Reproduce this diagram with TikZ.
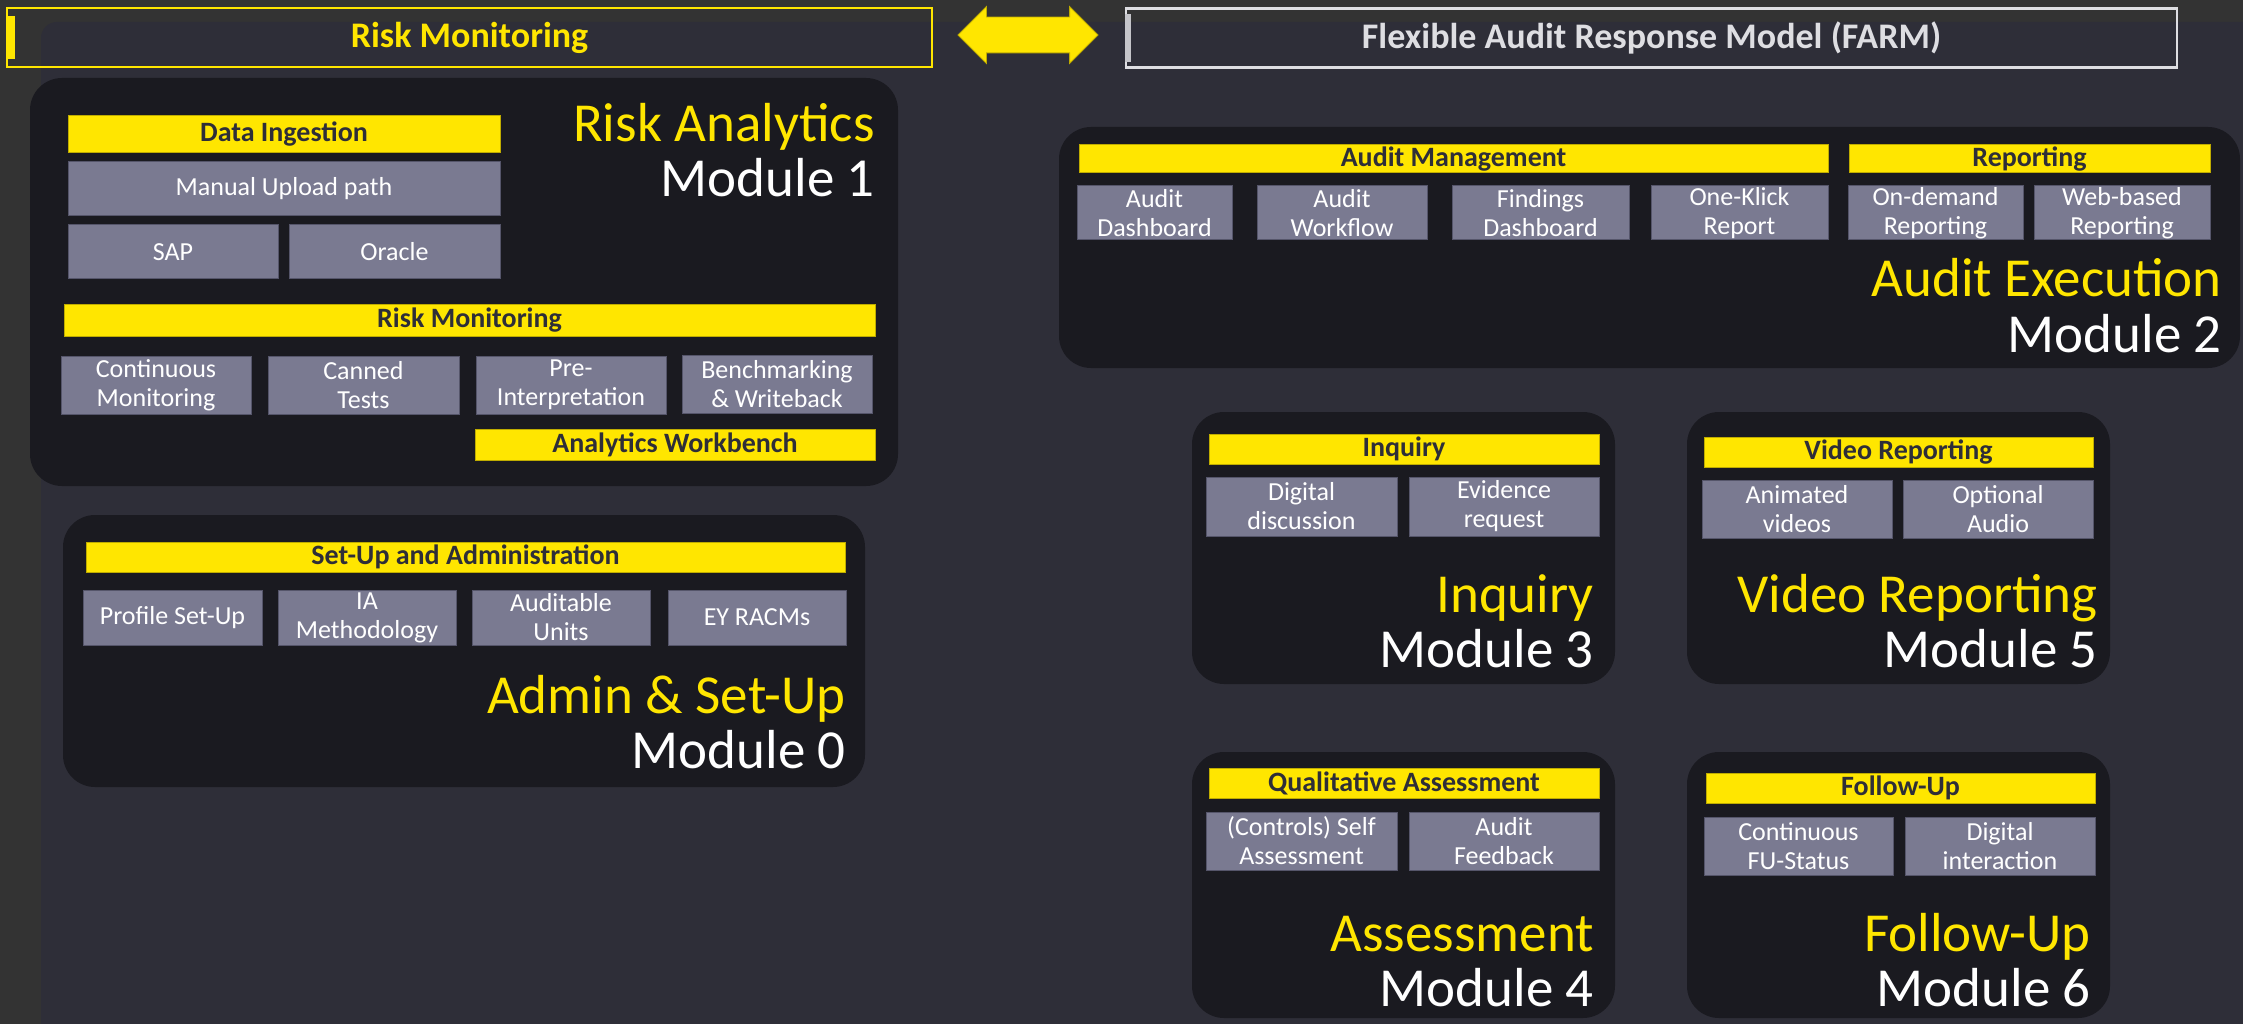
\documentclass[tikz,border=0pt]{standalone}
\usepackage{fontspec}
\setmainfont{Carlito}
\usepackage{tikz}
\usetikzlibrary{shapes.arrows}
\definecolor{eyyellow}{HTML}{FFE600}
\definecolor{eydark}{HTML}{2E2E38}
\definecolor{eyouter}{HTML}{333333}
\definecolor{eybox}{HTML}{1A1A20}
\definecolor{eygrey}{HTML}{7A7A91}
\definecolor{eyline}{HTML}{55556A}
\definecolor{eylight}{HTML}{DEDEE2}

\tikzset{
  modbox/.style={rectangle,rounded corners=32pt,fill=eybox,inner sep=0pt},
  bar/.style={rectangle,fill=eyyellow,draw=eyyellow!75!black,line width=1pt,inner sep=0pt,
    text=eydark,font=\fontsize{28}{30}\selectfont\bfseries},
  item/.style={rectangle,fill=eygrey,draw=eyline,line width=1pt,inner sep=0pt,
    text=white,align=center,font=\fontsize{26}{29}\selectfont},
  title/.style={anchor=base east,inner sep=0pt,text=eyyellow,font=\fontsize{55}{55}\selectfont},
  modnum/.style={anchor=base east,inner sep=0pt,text=white,font=\fontsize{55}{55}\selectfont},
  header/.style={rectangle,line width=2.5pt,inner sep=0pt,minimum height=59pt,
    font=\fontsize{36}{36}\selectfont\bfseries}
}

\begin{document}
\begin{tikzpicture}[x=1pt,y=-1pt]
\useasboundingbox (0,0) rectangle (2243,1024);
\fill[eyouter] (0,0) rectangle (2243,1024);
\fill[eydark] (41,1024) -- (41,38) arc[start angle=180,end angle=270,radius=16] -- (2243,22) -- (2243,1024) -- cycle;

% header
\node[header,draw=eyyellow,text=eyyellow,minimum width=925pt] (hrm) at (469.5,37.5) {Risk Monitoring};
\node[fill=eyyellow,inner sep=0pt,minimum width=9pt,minimum height=43pt,anchor=west] (hrmtab) at (hrm.west) {};
\node[header,draw=eylight,text=eylight,minimum width=1051pt] (hfarm) at (1651.5,38) {Flexible Audit Response Model (FARM)};
\node[fill=eylight!85!eydark,inner sep=0pt,minimum width=6pt,minimum height=48pt,anchor=west] (hfarmtab) at (hfarm.west) {};
\node[double arrow,fill=eyyellow,draw=eyyellow!75!black,line width=.8pt,inner sep=17.5pt,
  minimum height=140pt,double arrow head extend=10.5pt] (link) at (1028,35) {};

% module 1
\node[modbox,minimum width=868pt,minimum height=408pt] (m1) at (464,282) {};
\node[bar,minimum width=432pt,minimum height=37pt] (di) at (284,134.5) {Data Ingestion};
\node[item,minimum width=432pt,minimum height=54pt] (mu) at (284,189) {Manual Upload path};
\node[item,minimum width=210pt,minimum height=54pt] (sap) at (173,252) {SAP};
\node[item,minimum width=211pt,minimum height=54pt] (ora) at (394.5,252) {Oracle};
\node[bar,minimum width=811pt,minimum height=31pt] (rm) at (469.5,320.5) {Risk Monitoring};
\node[item,minimum width=190pt,minimum height=58pt] (cm) at (156,385) {Continuous\\Monitoring};
\node[item,minimum width=191pt,minimum height=58pt] (ct) at (363.5,385) {Canned\\Tests};
\node[item,minimum width=190pt,minimum height=58pt] (pin) at (571,385) {Pre-\\Interpretation};
\node[item,minimum width=190pt,minimum height=58pt] (bw) at (777,384) {Benchmarking\\\& Writeback};
\node[bar,minimum width=400pt,minimum height=31pt] (awb) at (675,444.5) {Analytics Workbench};
\node[title] (t1) at (875,142) {Risk Analytics};
\node[modnum] (n1) at (875,197) {Module 1};

% module 0
\node[modbox,minimum width=802pt,minimum height=272pt] (m0) at (464,651) {};
\node[bar,minimum width=759pt,minimum height=30pt] (sua) at (465.5,557) {Set-Up and Administration};
\node[item,minimum width=179pt,minimum height=55pt] (ps) at (172.5,617.5) {Profile Set-Up};
\node[item,minimum width=178pt,minimum height=55pt] (iam) at (367,617.5) {IA\\Methodology};
\node[item,minimum width=178pt,minimum height=55pt] (au) at (561,617.5) {Auditable\\Units};
\node[item,minimum width=178pt,minimum height=55pt] (eyr) at (757,617.5) {EY RACMs};
\node[title] (t0) at (846,713) {Admin \& Set-Up};
\node[modnum] (n0) at (846,768) {Module 0};

% module 2
\node[modbox,minimum width=1181pt,minimum height=241pt] (m2) at (1649.5,247.5) {};
\node[bar,minimum width=749pt,minimum height=28pt] (am) at (1453.5,159) {Audit Management};
\node[bar,minimum width=361pt,minimum height=28pt] (rep) at (2029.5,159) {Reporting};
\node[item,minimum width=155pt,minimum height=54pt] (ad) at (1154.5,213) {Audit\\Dashboard};
\node[item,minimum width=170pt,minimum height=54pt] (awf) at (1342,213) {Audit\\Workflow};
\node[item,minimum width=177pt,minimum height=54pt] (fd) at (1540.5,213) {Findings\\Dashboard};
\node[item,minimum width=177pt,minimum height=54pt] (okr) at (1739.5,213) {One-Klick\\Report};
\node[item,minimum width=175pt,minimum height=54pt] (odr) at (1935.5,213) {On-demand\\Reporting};
\node[item,minimum width=176pt,minimum height=54pt] (wbr) at (2122,213) {Web-based\\Reporting};
\node[title] (t2) at (2222,297) {Audit Execution};
\node[modnum] (n2) at (2222,352) {Module 2};

% module 3
\node[modbox,minimum width=423pt,minimum height=272pt] (m3) at (1403.5,548) {};
\node[bar,minimum width=390pt,minimum height=30pt] (inq) at (1404,449) {Inquiry};
\node[item,minimum width=191pt,minimum height=59pt] (dd) at (1301.5,506.5) {Digital\\discussion};
\node[item,minimum width=190pt,minimum height=59pt] (er) at (1504,506.5) {Evidence\\request};
\node[title] (t3) at (1594,612) {Inquiry};
\node[modnum] (n3) at (1594,667) {Module 3};

% module 5
\node[modbox,minimum width=423pt,minimum height=272pt] (m5) at (1898.5,548) {};
\node[bar,minimum width=389pt,minimum height=30pt] (vr) at (1898.5,452) {Video Reporting};
\node[item,minimum width=190pt,minimum height=58pt] (av) at (1797,509) {Animated\\videos};
\node[item,minimum width=190pt,minimum height=58pt] (oa) at (1998,509) {Optional\\Audio};
\node[title] (t5) at (2098,612) {Video Reporting};
\node[modnum] (n5) at (2098,667) {Module 5};

% module 4
\node[modbox,minimum width=423pt,minimum height=266pt] (m4) at (1403.5,885) {};
\node[bar,minimum width=390pt,minimum height=30pt] (qa) at (1404,783) {Qualitative Assessment};
\node[item,minimum width=191pt,minimum height=58pt] (sa) at (1301.5,841) {(Controls) Self\\Assessment};
\node[item,minimum width=190pt,minimum height=58pt] (af) at (1504,841) {Audit\\Feedback};
\node[title] (t4) at (1594,951) {Assessment};
\node[modnum] (n4) at (1594,1006) {Module 4};

% module 6
\node[modbox,minimum width=423pt,minimum height=266pt] (m6) at (1898.5,885) {};
\node[bar,minimum width=389pt,minimum height=30pt] (fu) at (1900.5,788) {Follow-Up};
\node[item,minimum width=189pt,minimum height=58pt] (fus) at (1798.5,846) {Continuous\\FU-Status};
\node[item,minimum width=190pt,minimum height=58pt] (dint) at (2000,846) {Digital\\interaction};
\node[title] (t6) at (2091,951) {Follow-Up};
\node[modnum] (n6) at (2091,1006) {Module 6};
\end{tikzpicture}
\end{document}
